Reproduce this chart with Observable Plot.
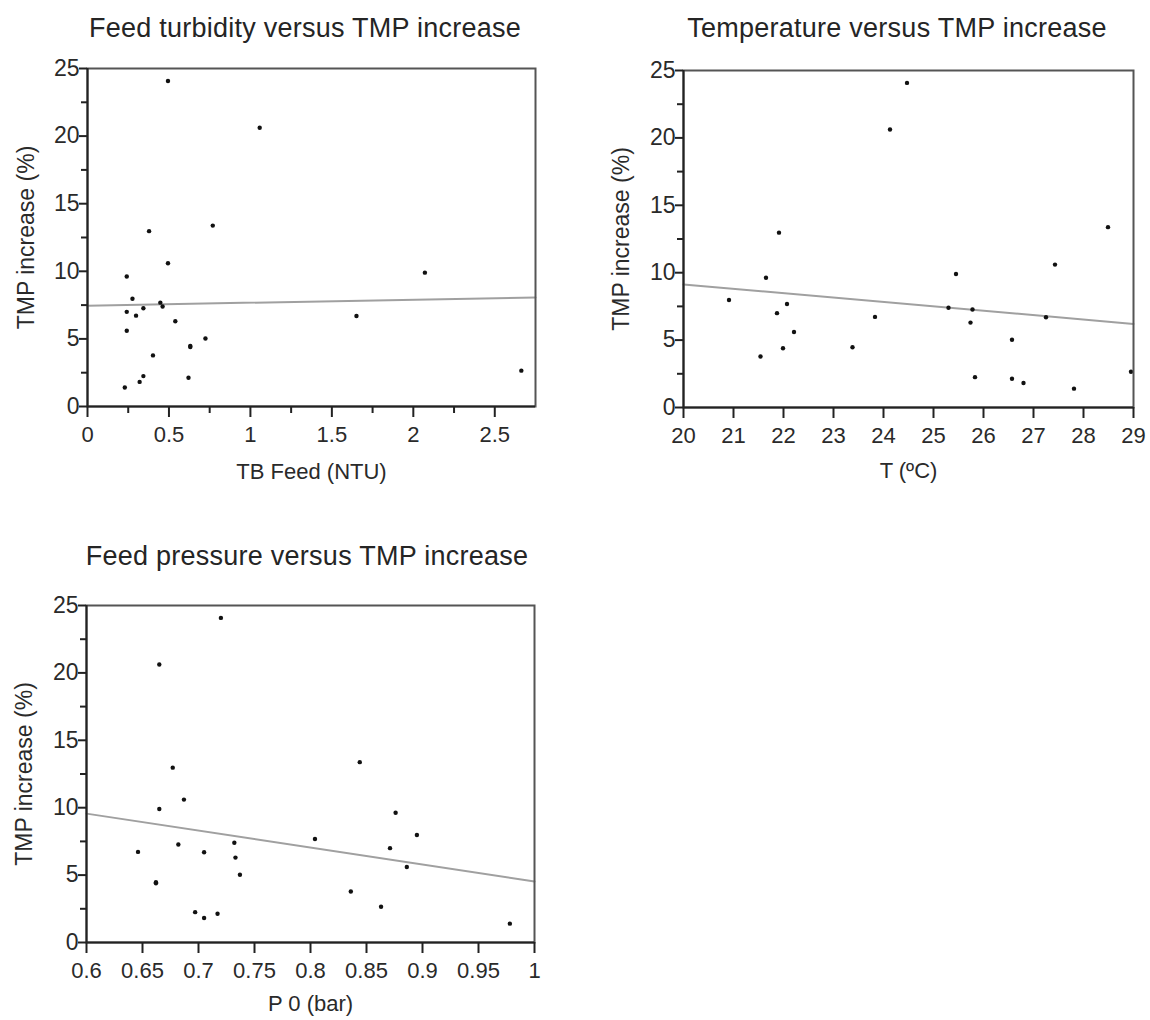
<!DOCTYPE html>
<html>
<head>
<meta charset="utf-8">
<script src="https://cdn.jsdelivr.net/npm/d3@7"></script>
<script src="https://cdn.jsdelivr.net/npm/@observablehq/plot@0.6"></script>
<style>
  html, body { margin: 0; padding: 0; background: #fff; }
  #page { position: relative; width: 1150px; height: 1020px; overflow: hidden; background: #fff;
          font-family: "Liberation Sans", Arial, sans-serif; }
  .panel { position: absolute; }
  .title { position: absolute; width: 600px; text-align: center; font-size: 27px; line-height: 27px;
           color: #252525; letter-spacing: 0.25px; z-index: 2; white-space: nowrap; }
</style>
</head>
<body>
<div id="page"></div>
<script>
// ---- Data ----
const tmpIncrease = [24.08, 20.62, 12.97, 13.38, 10.60, 9.62, 9.90, 7.97, 7.68, 7.40, 7.27, 7.00, 6.72, 6.69, 6.30, 5.60, 5.03, 4.47, 4.40, 3.78, 2.25, 2.13, 1.82, 1.40, 2.65];
const tbFeed = [0.494, 1.057, 0.378, 0.769, 0.494, 0.241, 2.071, 0.276, 0.447, 0.461, 0.343, 0.241, 0.298, 1.651, 0.539, 0.241, 0.724, 0.631, 0.631, 0.402, 0.343, 0.620, 0.320, 0.229, 2.663];
const temperature = [24.47, 24.13, 21.91, 28.49, 27.43, 21.65, 25.45, 20.91, 22.07, 25.30, 25.78, 21.87, 23.83, 27.25, 25.74, 22.21, 26.57, 23.38, 21.99, 21.54, 25.83, 26.57, 26.80, 27.81, 28.95];
const feedPressure = [0.720, 0.665, 0.677, 0.844, 0.687, 0.876, 0.665, 0.895, 0.804, 0.732, 0.682, 0.871, 0.646, 0.705, 0.733, 0.886, 0.737, 0.662, 0.662, 0.836, 0.697, 0.717, 0.705, 0.978, 0.863];

// fitted trend lines (end points)
const fitTbX = [0, 2.75], fitTbY = [7.46, 8.06];
const fitTX = [20, 29], fitTY = [9.13, 6.20];
const fitPX = [0.6, 1.0], fitPY = [9.56, 4.53];

// axis ticks
const yMajor = [0, 5, 10, 15, 20, 25];
const yMinor = [2.5, 7.5, 12.5, 17.5, 22.5];
const tbMajor = [0, 0.5, 1, 1.5, 2, 2.5];
const tbMinor = [0.25, 0.75, 1.25, 1.75, 2.25];
const tMajor = [20, 21, 22, 23, 24, 25, 26, 27, 28, 29];
const pMajor = [0.6, 0.65, 0.7, 0.75, 0.8, 0.85, 0.9, 0.95, 1];
const pTickLabels = ["0.6", "0.65", "0.7", "0.75", "0.8", "0.85", "0.9", "0.95", "1"];

const titles = ["Feed turbidity versus TMP increase", "Temperature versus TMP increase", "Feed pressure versus TMP increase"];
const xLabels = ["TB Feed (NTU)", "T (ºC)", "P 0 (bar)"];
const yLabel = "TMP increase (%)";

// ---- Build ----
const page = document.getElementById("page");
const blank = () => "";

function makePanel(cfg) {
  const pts = cfg.xs.map((x, i) => ({x, y: tmpIncrease[i]}));
  const fit = cfg.fitX.map((x, i) => ({x, y: cfg.fitY[i]}));
  const marks = [
    Plot.line(fit, {x: "x", y: "y", stroke: "#a0a0a0", strokeWidth: 2}),
    Plot.dot(pts, {x: "x", y: "y", r: 2.2, fill: "#111", stroke: "none"}),
    Plot.frame({stroke: "#555", strokeWidth: 2}),
    Plot.ruleX([cfg.xDomain[0]], {stroke: "#222", strokeWidth: 2}),
    Plot.ruleY([0], {stroke: "#222", strokeWidth: 2}),
    Plot.axisY(yMajor, {tickSize: 8, tickPadding: 0, strokeWidth: 2, stroke: "#222", fontSize: 23,
      label: yLabel, labelAnchor: "center", labelOffset: cfg.yLabelOffset, labelArrow: "none"}),
    Plot.axisY(yMinor, {tickSize: 6, strokeWidth: 2, stroke: "#222", tickFormat: blank, label: null}),
    Plot.axisX(cfg.xMajor, {tickSize: 11, tickPadding: 9, strokeWidth: 2, stroke: "#222",
      tickFormat: cfg.tickFormat,
      label: cfg.xLabel, labelAnchor: "center", labelOffset: cfg.xLabelOffset, labelArrow: "none"})
  ];
  if (cfg.xMinor) marks.push(Plot.axisX(cfg.xMinor, {tickSize: 7, strokeWidth: 2, stroke: "#222", tickFormat: blank, label: null}));
  const svg = Plot.plot({
    width: cfg.width, height: cfg.height,
    marginLeft: cfg.ml, marginRight: cfg.mr, marginTop: cfg.mt, marginBottom: cfg.mb,
    style: {fontFamily: "'Liberation Sans', Arial, sans-serif", fontSize: "22px", color: "#2a2a2a",
            background: "transparent", overflow: "visible"},
    x: {domain: cfg.xDomain, labelArrow: "none"},
    y: {domain: [0, 25], labelArrow: "none"},
    marks
  });
  const div = document.createElement("div");
  div.className = "panel";
  div.style.left = cfg.left + "px";
  div.style.top = cfg.top + "px";
  div.appendChild(svg);
  page.appendChild(div);

  const t = document.createElement("div");
  t.className = "title";
  t.textContent = cfg.title;
  t.style.left = (cfg.titleCx - 300) + "px";
  t.style.top = cfg.titleTop + "px";
  page.appendChild(t);
}

makePanel({
  xs: tbFeed, xDomain: [0, 2.75], xMajor: tbMajor, xMinor: tbMinor, tickFormat: d => String(d),
  fitX: fitTbX, fitY: fitTbY, xLabel: xLabels[0], title: titles[0],
  left: 0, top: 0, width: 560, height: 490, ml: 87, mr: 25, mt: 68, mb: 84,
  yLabelOffset: 70, xLabelOffset: 72, titleCx: 305, titleTop: 15
});
makePanel({
  xs: temperature, xDomain: [20, 29], xMajor: tMajor, xMinor: null, tickFormat: d => String(d),
  fitX: fitTX, fitY: fitTY, xLabel: xLabels[1], title: titles[1],
  left: 590, top: 0, width: 560, height: 490, ml: 93, mr: 17, mt: 70, mb: 83,
  yLabelOffset: 71, xLabelOffset: 70, titleCx: 897, titleTop: 15
});
makePanel({
  xs: feedPressure, xDomain: [0.6, 1], xMajor: pMajor, xMinor: null,
  tickFormat: d => pTickLabels[pMajor.indexOf(d)],
  fitX: fitPX, fitY: fitPY, xLabel: xLabels[2], title: titles[2],
  left: 0, top: 520, width: 560, height: 500, ml: 86, mr: 26, mt: 85, mb: 78,
  yLabelOffset: 71, xLabelOffset: 68, titleCx: 307, titleTop: 543
});
</script>
</body>
</html>
